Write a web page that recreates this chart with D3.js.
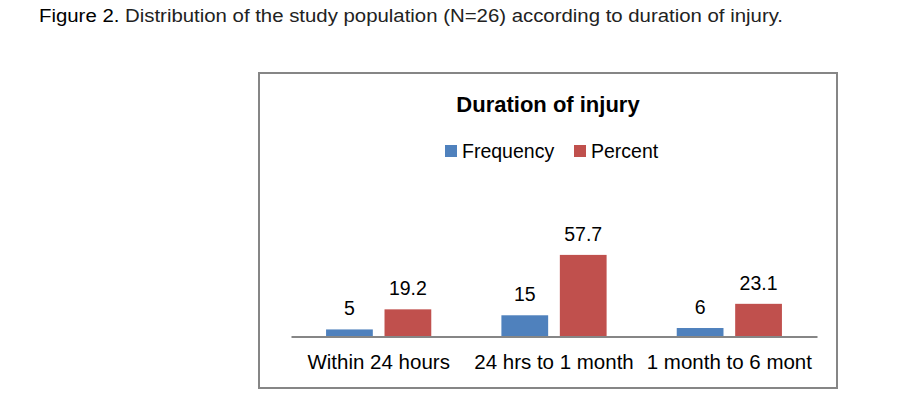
<!DOCTYPE html>
<html>
<head>
<meta charset="utf-8">
<script src="https://cdn.jsdelivr.net/npm/d3@7"></script>
<style>
  html, body { margin: 0; padding: 0; background: #fff; }
  svg { display: block; }
</style>
</head>
<body>
<svg id="chart" width="924" height="412"></svg>
<script>
const categories = ["Within 24 hours", "24 hrs to 1 month", "1 month to 6 mont"];
const seriesNames = ["Frequency", "Percent"];
const frequency = [5, 15, 6];
const percent = [19.2, 57.7, 23.1];
const valueLabels = [["5", "15", "6"], ["19.2", "57.7", "23.1"]];
const seriesColors = ["#4F81BD", "#C0504D"];

const svg = d3.select("#chart");
const FONT = "'Liberation Sans', Arial, sans-serif";

// Caption
const cap = svg.append("text")
  .attr("x", 39).attr("y", 22)
  .attr("font-family", FONT)
  .attr("font-size", 17.5).attr("fill", "#222")
  .attr("textLength", 744).attr("lengthAdjust", "spacingAndGlyphs");
cap.append("tspan").attr("fill", "#000").text("Figure 2.");
cap.append("tspan").text(" Distribution of the study population (N=26) according to duration of injury.");

// Chart border
svg.append("rect")
  .attr("x", 259).attr("y", 73).attr("width", 578).attr("height", 315)
  .attr("fill", "#fff").attr("stroke", "#868686").attr("stroke-width", 2);

// Title
svg.append("text")
  .attr("x", 548).attr("y", 111.5)
  .attr("text-anchor", "middle")
  .attr("font-family", FONT).attr("font-weight", "bold")
  .attr("font-size", 22).attr("fill", "#000")
  .text("Duration of injury");

// Legend
const legendX = [445, 574];
seriesNames.forEach((name, i) => {
  svg.append("rect")
    .attr("x", legendX[i]).attr("y", 145).attr("width", 12).attr("height", 12)
    .attr("fill", seriesColors[i]);
  svg.append("text")
    .attr("x", legendX[i] + 17).attr("y", 157.5)
    .attr("font-family", FONT).attr("font-size", 19.5).attr("fill", "#000")
    .text(name);
});

// Scales
const baseline = 336.5;
const x = d3.scaleBand().domain(categories).range([291, 817]).padding(0);
const xInner = d3.scaleBand().domain(seriesNames).range([0, x.bandwidth()])
  .paddingInner(0.2).paddingOuter(0.6);
const y = d3.scaleLinear().domain([0, 70]).range([baseline, baseline - 99]);

const seriesData = [frequency, percent];

const groups = svg.append("g").selectAll("g")
  .data(categories)
  .join("g")
  .attr("transform", d => `translate(${x(d)},0)`);

groups.selectAll("rect")
  .data((d, ci) => seriesNames.map((s, si) => ({ s, si, v: seriesData[si][ci] })))
  .join("rect")
  .attr("x", d => xInner(d.s))
  .attr("y", d => y(d.v))
  .attr("width", xInner.bandwidth())
  .attr("height", d => baseline - y(d.v))
  .attr("fill", d => seriesColors[d.si]);

groups.selectAll("text.val")
  .data((d, ci) => seriesNames.map((s, si) => ({ s, si, v: seriesData[si][ci], lab: valueLabels[si][ci] })))
  .join("text")
  .attr("class", "val")
  .attr("x", d => xInner(d.s) + xInner.bandwidth() / 2)
  .attr("y", d => y(d.v) - 14)
  .attr("text-anchor", "middle")
  .attr("font-family", FONT).attr("font-size", 19.5).attr("fill", "#000")
  .text(d => d.lab);

// Axis
const axis = svg.append("g")
  .attr("transform", `translate(0,${baseline})`)
  .call(d3.axisBottom(x).tickSize(0).tickPadding(18));
axis.select(".domain").attr("stroke", "#868686").attr("stroke-width", 2);
axis.selectAll("text")
  .attr("font-family", FONT).attr("font-size", 20.5).attr("fill", "#000");
</script>
</body>
</html>
